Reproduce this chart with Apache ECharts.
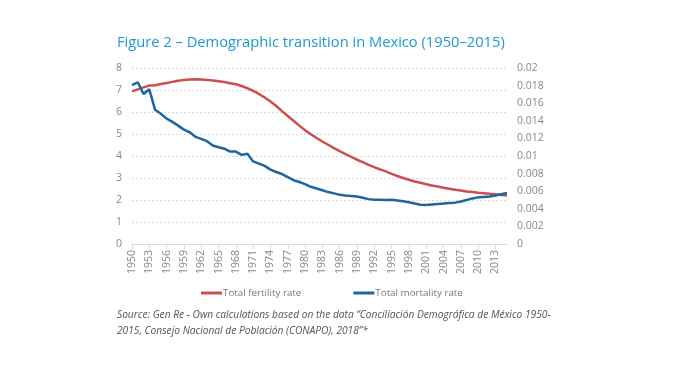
<!DOCTYPE html>
<html>
<head>
<meta charset="utf-8">
<script src="https://cdn.jsdelivr.net/npm/echarts@6/dist/echarts.min.js"></script>
<style>
html,body{margin:0;padding:0;background:#fff;}
#c{width:674px;height:370px;}
</style>
</head>
<body>
<div id="c"></div>
<script>
const years = [];
for (let y = 1950; y <= 2015; y++) years.push(String(y));

const fertility = [6.94, 7.03, 7.12, 7.20, 7.22, 7.27, 7.32, 7.37, 7.42, 7.46,
  7.48, 7.49, 7.48, 7.46, 7.43, 7.40, 7.36, 7.31, 7.26, 7.18,
  7.08, 6.96, 6.82, 6.66, 6.48, 6.27, 6.04, 5.82, 5.60, 5.38,
  5.17, 4.99, 4.82, 4.66, 4.51, 4.36, 4.22, 4.09, 3.96, 3.83,
  3.72, 3.60, 3.49, 3.39, 3.30, 3.19, 3.09, 3.00, 2.92, 2.84,
  2.78, 2.72, 2.66, 2.61, 2.56, 2.51, 2.47, 2.43, 2.39, 2.36,
  2.33, 2.31, 2.28, 2.26, 2.23, 2.21];

const mortality = [0.01805, 0.01838, 0.01705, 0.01758, 0.01525, 0.0148, 0.01425, 0.01388, 0.01345, 0.0130,
  0.0127, 0.01218, 0.01195, 0.01168, 0.0112, 0.0110, 0.01083, 0.0105, 0.0105, 0.01013,
  0.01025, 0.00938, 0.00913, 0.00888, 0.00845, 0.00818, 0.00795, 0.0076, 0.00725, 0.00705,
  0.0068, 0.0065, 0.0063, 0.0061, 0.0059, 0.00575, 0.0056, 0.0055, 0.00545, 0.0054,
  0.00525, 0.0051, 0.00503, 0.00503, 0.0050, 0.00503, 0.00495, 0.00485, 0.00475, 0.0046,
  0.00445, 0.00443, 0.0045, 0.00455, 0.0046, 0.00465, 0.0047, 0.00483, 0.0050, 0.00518,
  0.0053, 0.00535, 0.0054, 0.0055, 0.00565, 0.0058];

const titleText = 'Figure 2 – Demographic transition in Mexico (1950–2015)';
const sourceText = 'Source: Gen Re - Own calculations based on the data “Conciliación Demográfica de México 1950-\n2015, Consejo Nacional de Población (CONAPO), 2018”*';
const seriesNames = ['Total fertility rate', 'Total mortality rate'];

const chart = echarts.init(document.getElementById('c'), null, {renderer: 'canvas'});
chart.setOption({
  animation: false,
  backgroundColor: '#ffffff',
  title: [{
    text: titleText,
    left: 112, top: 30,
    textStyle: {fontFamily: 'Open Sans', fontSize: 14.7, fontWeight: 'normal', color: '#1b9bd1'}
  }, {
    text: sourceText,
    left: 112, top: 302,
    textStyle: {fontFamily: 'Open Sans', fontSize: 10.2, fontStyle: 'italic', fontWeight: 'normal', color: '#555', lineHeight: 16}
  }],
  legend: {
    data: seriesNames,
    left: 196, top: 283,
    icon: 'rect', itemWidth: 21, itemHeight: 3, itemGap: 52,
    textStyle: {fontFamily: 'Open Sans', fontSize: 9.8, color: '#777', padding: [0,0,0,-4]}
  },
  grid: {left: 132, right: 167, top: 68, bottom: 126, containLabel: false},
  xAxis: {
    type: 'category', data: years, boundaryGap: false,
    axisLine: {lineStyle: {color: '#d9d9d9'}},
    axisTick: {interval: 2, length: 5, lineStyle: {color: '#d9d9d9'}},
    axisLabel: {interval: 2, rotate: 90, color: '#888', fontFamily: 'Open Sans', fontSize: 10.5, margin: 6},
    splitLine: {show: false}
  },
  yAxis: [{
    type: 'value', min: 0, max: 8, interval: 1,
    axisLine: {show: false}, axisTick: {show: false},
    axisLabel: {color: '#888', fontFamily: 'Open Sans', fontSize: 10.5, margin: 10},
    splitLine: {lineStyle: {color: '#d9d9d9', type: [2, 2]}}
  }, {
    type: 'value', min: 0, max: 0.02, interval: 0.002,
    axisLine: {show: false}, axisTick: {show: false},
    axisLabel: {color: '#888', fontFamily: 'Open Sans', fontSize: 10.5, margin: 10},
    splitLine: {show: false}
  }],
  series: [{
    name: seriesNames[0], type: 'line', data: fertility, yAxisIndex: 0,
    showSymbol: false, symbol: 'none',
    lineStyle: {color: '#c9504f', width: 2.5}, itemStyle: {color: '#c9504f'}
  }, {
    name: seriesNames[1], type: 'line', data: mortality, yAxisIndex: 1,
    showSymbol: false, symbol: 'none',
    lineStyle: {color: '#1f65a0', width: 2.5}, itemStyle: {color: '#1f65a0'}
  }]
});
</script>
</body>
</html>
